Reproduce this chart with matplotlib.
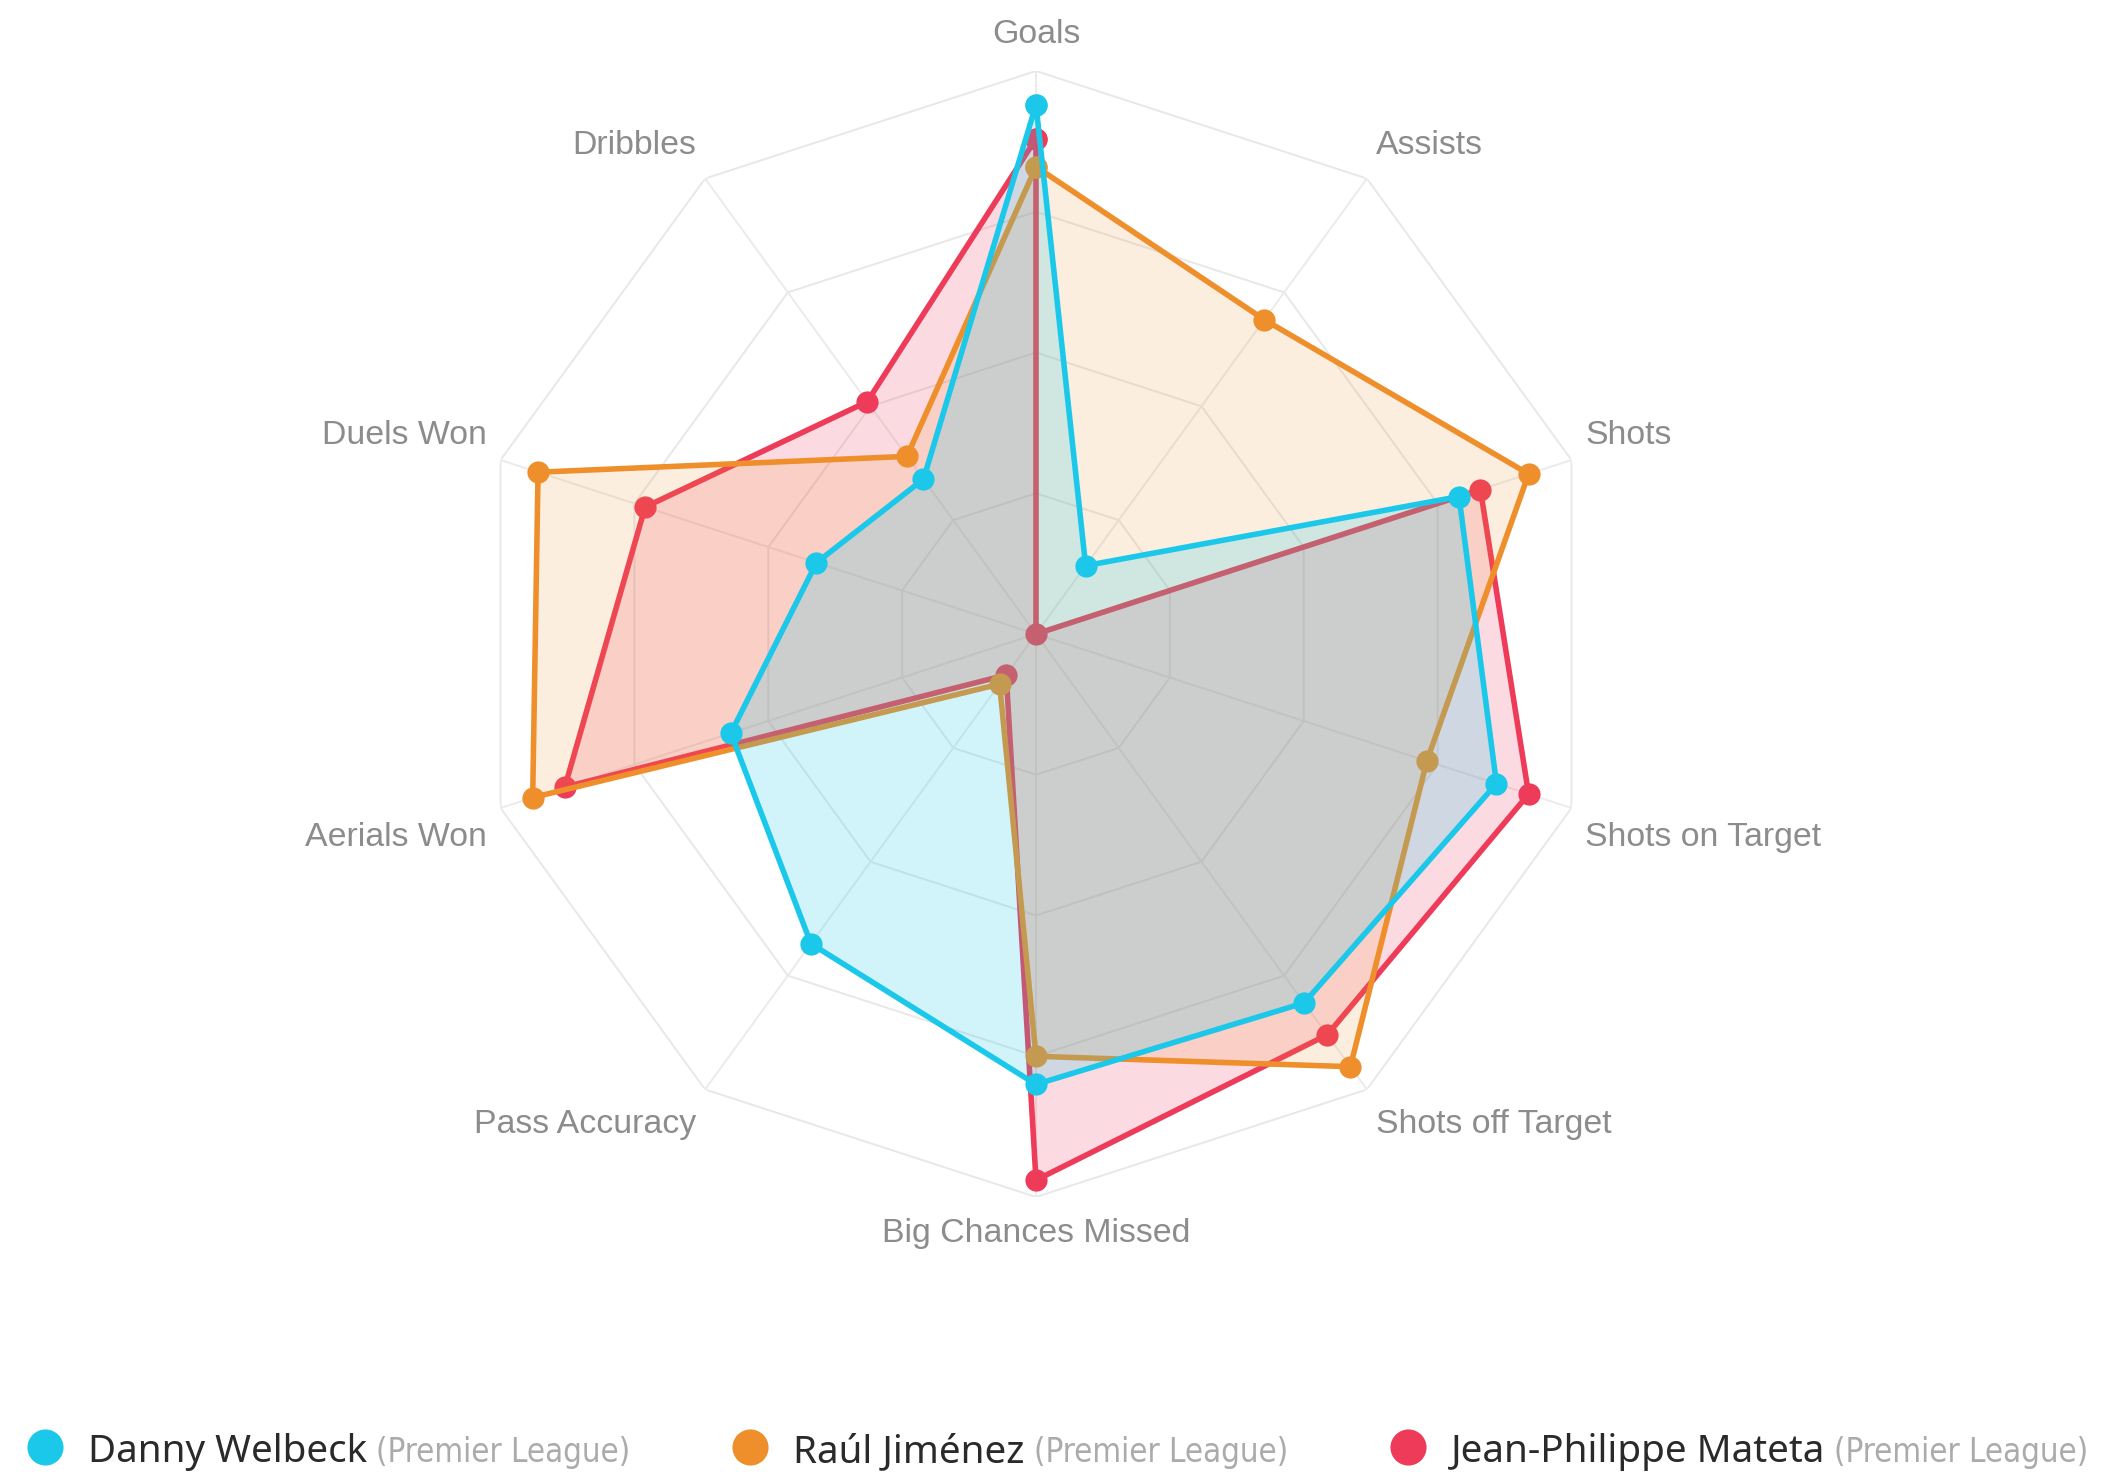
import numpy as np
import matplotlib.pyplot as plt
from matplotlib.lines import Line2D
from matplotlib import font_manager

# radar chart data (values as share of the outer ring)
categories = ['Goals', 'Assists', 'Shots', 'Shots on Target', 'Shots off Target',
              'Big Chances Missed', 'Pass Accuracy', 'Aerials Won', 'Duels Won', 'Dribbles']
players = ['Danny Welbeck', 'Raúl Jiménez', 'Jean-Philippe Mateta']
league = '(Premier League)'
welbeck = [0.94, 0.15, 0.79, 0.86, 0.81, 0.80, 0.68, 0.57, 0.41, 0.34]
jimenez = [0.83, 0.69, 0.92, 0.73, 0.95, 0.75, 0.11, 0.94, 0.93, 0.39]
mateta = [0.88, 0.00, 0.83, 0.92, 0.88, 0.97, 0.09, 0.88, 0.73, 0.51]
rings = [0.25, 0.5, 0.75, 1.0]

colors = ['#1cc8ea', '#ee8f2c', '#ee3b59']
fill_alpha = [0.2, 0.15, 0.18]

W, H, DPI = 2116, 1475, 200
fig = plt.figure(figsize=(W / DPI, H / DPI), dpi=DPI)
fig.patch.set_facecolor('white')

# polar axes placed so the outer ring sits where the reference has it
cx, cy, R = 1036, 634, 563
ax = fig.add_axes([(cx - R) / W, (H - cy - R) / H, 2 * R / W, 2 * R / H], projection='polar')
ax.set_theta_offset(np.pi / 2)
ax.set_theta_direction(-1)
ax.set_ylim(0, 1)
ax.set_xticks([])
ax.set_yticks([])
ax.grid(False)
ax.spines['polar'].set_visible(False)
ax.patch.set_alpha(0)

n = len(categories)
theta = np.arange(n) * 2 * np.pi / n
closed = np.append(theta, theta[0])

# polygon grid + spokes
for r in rings:
    ax.plot(closed, [r] * (n + 1), color='#e8e8e8', lw=0.7, zorder=0)
for t in theta:
    ax.plot([t, t], [0, 1], color='#ebebeb', lw=0.7, zorder=0)

# first dataset ends up on top, like the original
series = [welbeck, jimenez, mateta]
for k in [2, 1, 0]:
    vals = np.append(series[k], series[k][0])
    z = 2 + (2 - k)
    ax.fill(closed, vals, color=colors[k], alpha=fill_alpha[k], lw=0, zorder=z)
    ax.plot(closed, vals, color=colors[k], lw=2.0, marker='o', ms=8,
            markeredgewidth=0, zorder=z + 0.5, clip_on=False)

# axis labels, offset from the outer vertex (offsets in points)
for t, lab in zip(theta, categories):
    s, c = np.sin(t), np.cos(t)
    if abs(s) < 1e-6:
        ha = 'center'
    elif s > 0:
        ha = 'left'
    else:
        ha = 'right'
    dx = 5.3 * s
    if c > 0:
        va = 'baseline'
        dy = 3.6 + 6.6 * c
    else:
        va = 'top'
        dy = -(4.1 + 3.4 * abs(c))
    ax.annotate(lab, xy=(t, 1.0), xytext=(dx, dy), textcoords='offset points',
                ha=ha, va=va, fontsize=12.2, color='#8c8c8c',
                family='Liberation Sans', annotation_clip=False)

# condensed face for the league tag if one is installed
narrow = None
for f in font_manager.fontManager.ttflist:
    if f.name in ('Liberation Sans Narrow', 'DejaVu Sans') and f.stretch in ('condensed', 'semi-condensed') \
            and f.weight in (400, 'normal', 'regular') and f.style == 'normal':
        narrow = f.fname
        break

# legend: dot, name, grey league tag, laid out left to right
fig.canvas.draw()
renderer = fig.canvas.get_renderer()
x = 45
y_dot = H - 1447
y_base = H - 1462
tag_width = 254
for name, col in zip(players, colors):
    fig.add_artist(Line2D([x / W], [y_dot / H], marker='o', ms=13, color=col,
                          markeredgewidth=0, linestyle='', transform=fig.transFigure))
    t1 = fig.text((x + 43) / W, y_base / H, name, va='baseline', ha='left',
                  fontsize=13.9, fontweight=500, color='#2a2a2a', family='Noto Sans')
    bb = t1.get_window_extent(renderer)
    if narrow:
        t2 = fig.text((bb.x1 + 9) / W, y_base / H, league, va='baseline', ha='left',
                      fontsize=13.5, color='#ababab',
                      fontproperties=font_manager.FontProperties(fname=narrow, size=13.5))
    else:
        t2 = fig.text((bb.x1 + 9) / W, y_base / H, league, va='baseline', ha='left',
                      fontsize=13.5, color='#ababab', family='Liberation Sans')
    w = t2.get_window_extent(renderer).width
    t2.set_fontsize(13.5 * tag_width / w)
    bb2 = t2.get_window_extent(renderer)
    x = bb2.x1 + 120

fig.savefig('out.png', dpi=DPI, facecolor='white')
